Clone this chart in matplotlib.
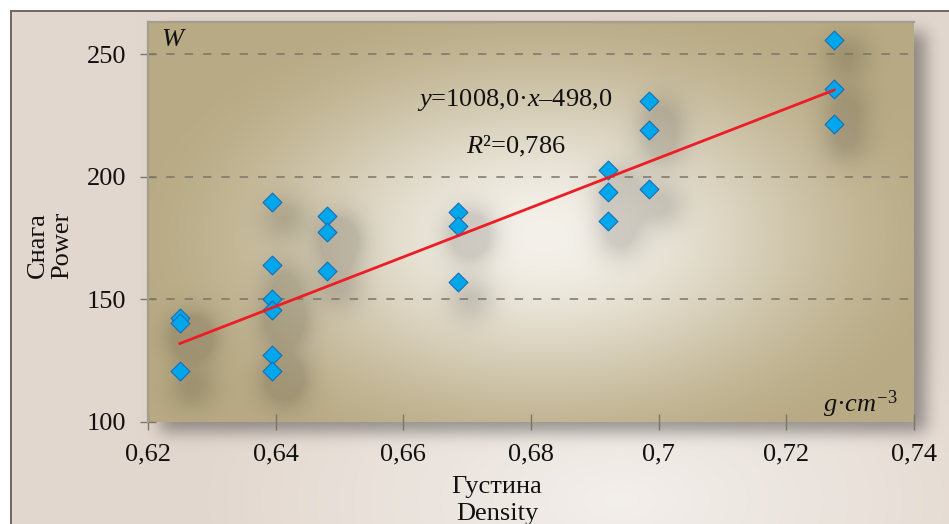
import numpy as np
import matplotlib
matplotlib.use("Agg")
import matplotlib.pyplot as plt

plt.rcParams['font.family'] = ['Liberation Serif', 'DejaVu Serif']
plt.rcParams['mathtext.fontset'] = 'custom'
plt.rcParams['mathtext.rm'] = 'Liberation Serif'
plt.rcParams['mathtext.it'] = 'Liberation Serif:italic'

# Density (g/cm^3) vs power (W)
density = [0.625, 0.625, 0.625,
           0.6395, 0.6395, 0.6395, 0.6395, 0.6395, 0.6395,
           0.648, 0.648, 0.648,
           0.6685, 0.6685, 0.6685,
           0.692, 0.692, 0.692,
           0.6985, 0.6985, 0.6985,
           0.7275, 0.7275, 0.7275]
power = [142.3, 140.5, 120.9,
         189.8, 163.9, 150.1, 145.7, 127.3, 120.9,
         184.0, 177.6, 161.7,
         185.6, 179.9, 157.1,
         202.7, 193.9, 182.1,
         230.9, 219.0, 195.0,
         255.7, 235.6, 221.5]

slope = 1008.0
intercept = -498.0
r2 = "0,786"

xticks = [0.62, 0.64, 0.66, 0.68, 0.70, 0.72, 0.74]
xtick_labels = ['0,62', '0,64', '0,66', '0,68', '0,7', '0,72', '0,74']
yticks = [100, 150, 200, 250]
ytick_labels = ['100', '150', '200', '250']
grid_levels = [150, 200, 250]

W, H = 949, 524
FS = 19


def hexrgb(h):
    h = h.lstrip('#')
    return np.array([int(h[i:i + 2], 16) for i in (0, 2, 4)]) / 255.0


def blur(img, sigma):
    r = int(3 * sigma)
    k = np.exp(-np.arange(-r, r + 1) ** 2 / (2.0 * sigma ** 2))
    k /= k.sum()
    img = np.apply_along_axis(lambda v: np.convolve(v, k, mode='same'), 0, img)
    img = np.apply_along_axis(lambda v: np.convolve(v, k, mode='same'), 1, img)
    return img


fig = plt.figure(figsize=(W / 100, H / 100), dpi=100)
fig.patch.set_facecolor('white')

# plot box in pixels (left, top, right, bottom)
L, T, R, B = 148, 22, 914, 422
ax = fig.add_axes([L / W, 1 - B / H, (R - L) / W, (B - T) / H])
ax.set_xlim(0.62, 0.74)
ax.set_ylim(100, 263.05)
ax.patch.set_visible(False)

# ---- background picture: page gradient, box shadow, box gradient, marker shadows
yy, xx = np.mgrid[0:H, 0:W].astype(float)

page_dark = hexrgb('#e2d7ce')
page_light = hexrgb('#f3efeb')
t = np.clip(np.sqrt(((xx - 620) / 430) ** 2 + ((yy - 500) / 230) ** 2), 0, 1)
bg = page_light * (1 - t)[..., None] + page_dark * t[..., None]

box = ((xx >= L) & (xx < R) & (yy >= T) & (yy < B)).astype(float)
shadow_box = np.roll(np.roll(box, 10, axis=0), 12, axis=1)
shadow_box = blur(shadow_box, 8)
bg *= (1 - 0.36 * shadow_box)[..., None]

area_light = hexrgb('#f4f1ea')
area_edge = hexrgb('#b8aa84')
d = np.sqrt(((xx - 545) / 430) ** 2 + ((yy - 235) / 250) ** 2)
t = np.clip(d, 0, 1)
t = t * t * (3 - 2 * t)
area = area_light * (1 - t)[..., None] + area_edge * t[..., None]

pts = ax.transData.transform(np.column_stack([density, power]))
spot = np.zeros((H, W))
for px, py in pts:
    spot += np.exp(-((xx - px - 12) ** 2 + (yy - (H - py) - 16) ** 2) / (2 * 17.0 ** 2))
spot = np.clip(spot, 0, 1)
area *= (1 - 0.14 * spot)[..., None]

bg = np.where(box[..., None] > 0, area, bg)

# outer frame
bg[:10, :, :] = 1.0
bg[:, :10, :] = 1.0
bg[10:12, 10:, :] = hexrgb('#6f6a6a')
bg[10:, 10:12, :] = hexrgb('#6f6a6a')

fig.figimage(np.clip(bg, 0, 1), 0, 0, origin='upper', zorder=-1)

# ---- data
ax.scatter(density, power, marker='D', s=92, facecolor='#00a7eb',
           edgecolor='#1b6db3', linewidth=0.8, zorder=3)
xfit = np.array([min(density), max(density)])
ax.plot(xfit, slope * xfit + intercept, color='#ee1c25', lw=2.0, zorder=4)

for lvl in grid_levels:
    ax.axhline(lvl, color='#7b7568', lw=1.1, ls=(0, (5.5, 6.5)), zorder=1)

ax.set_xticks(xticks)
ax.set_xticklabels(xtick_labels)
ax.set_yticks(yticks)
ax.set_yticklabels(ytick_labels)
ax.tick_params(axis='both', direction='inout', length=11, width=1,
               color='#7b7568', labelsize=FS, labelcolor='#111111', pad=10)

for s in ['right', 'bottom']:
    ax.spines[s].set_visible(False)
for s in ['left', 'top']:
    ax.spines[s].set_color('#a59e90')
    ax.spines[s].set_linewidth(1.6)


def ftext(px, py, s, **kw):
    fig.text(px / W, 1 - py / H, s, ha='center', va='center',
             fontsize=FS, color='#111111', **kw)


ftext(172, 40, 'W', style='italic')
ftext(515, 100, r'$y$=1008,0·$x$–498,0')
ftext(516, 146, r'$R$²=' + r2)
ftext(860, 404, r'$g$·$cm^{-3}$')

ftext(38, 245, 'Снага', rotation=90)
ftext(62, 245, 'Power', rotation=90)
ftext(497, 487, 'Густина')
ftext(497, 514, 'Density')

fig.savefig('out.png', dpi=100)
